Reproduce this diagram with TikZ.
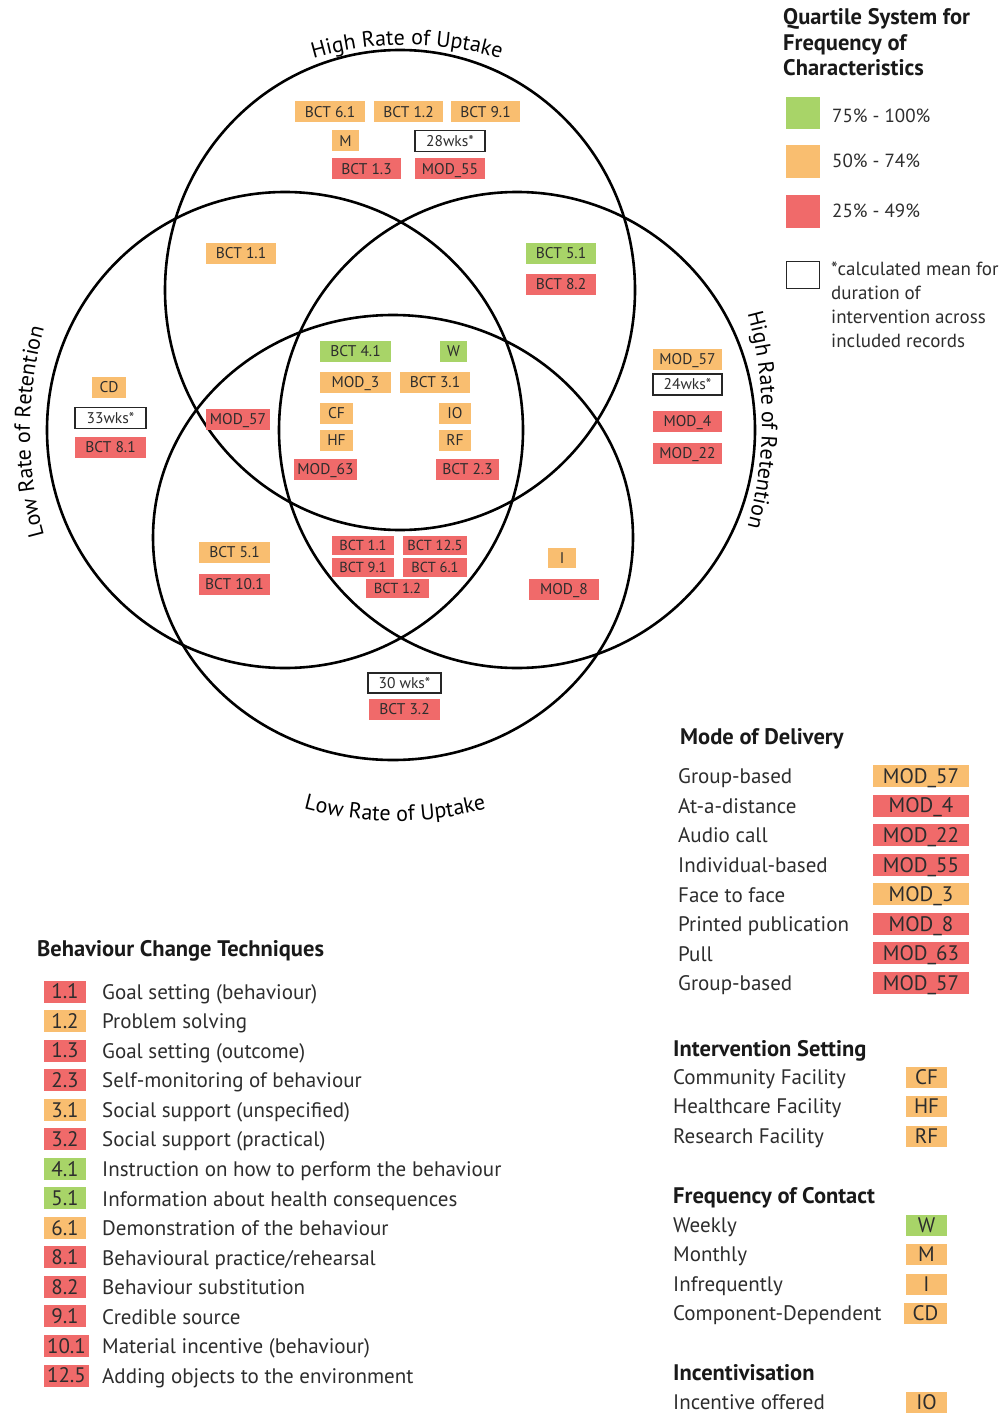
\documentclass[tikz,border=0pt]{standalone}
\usepackage{fontspec}
\setmainfont{PT Sans}
\usetikzlibrary{decorations.text}
\definecolor{cgreen}{RGB}{168,212,104}
\definecolor{corange}{RGB}{249,190,112}
\definecolor{cred}{RGB}{240,106,106}
\definecolor{txtc}{RGB}{45,45,45}
\newcommand\vennfont{\fontsize{15.5}{16}\selectfont}
\newcommand\vennsmall{\fontsize{14.5}{15}\selectfont}
\newcommand\legfont{\fontsize{21}{24}\selectfont}
\newcommand\qfont{\fontsize{19}{22}\selectfont}
\newcommand\headfont{\fontsize{22.5}{26}\selectfont\bfseries}
\newcommand\arcfont{\fontsize{22}{26}\selectfont}
\tikzset{
  vbox/.style={inner sep=0pt, minimum height=21pt, text=txtc, font=\vennfont, text height=10.9pt, text depth=0pt},
  vsmall/.style={font=\vennsmall, text height=10.2pt, minimum height=19pt},
  gbox/.style={vbox, fill=cgreen},
  obox/.style={vbox, fill=corange},
  rbox/.style={vbox, fill=cred},
  wbox/.style={vbox, draw=black!85, line width=1.5pt, fill=white},
  lbox/.style={vbox, font=\legfont, text height=14.7pt, minimum height=22pt},
  ring/.style={draw=black, line width=2.6pt},
  lgtext/.style={anchor=base west, inner sep=0pt, font=\legfont, text=txtc},
  qtext/.style={anchor=base west, inner sep=0pt, font=\qfont, text=txtc},
  lghead/.style={anchor=base west, inner sep=0pt, font=\headfont, text=black!90},
}
\begin{document}
\begin{tikzpicture}[x=1pt,y=-1pt]
\useasboundingbox (0,0) rectangle (1008,1415);
\fill[white] (0,0) rectangle (1008,1415);

% ---- circles ----
\coordinate (cT) at (400,290);
\coordinate (cL) at (285,430);
\coordinate (cR) at (517,430);
\coordinate (cB) at (393,537.5);
\draw[ring] (cT) ellipse[x radius=235pt, y radius=240pt];
\draw[ring] (cL) circle[radius=238pt];
\draw[ring] (cR) circle[radius=238pt];
\draw[ring] (cB) ellipse[x radius=240pt, y radius=222.5pt];

% ---- curved labels ----
\path[decorate, decoration={text along path, text align=center,
  text={|\arcfont|High Rate of Uptake}}]
  ([shift={(407,375)}]115:330pt) arc[start angle=115, end angle=65, radius=330pt];
\path[decorate, decoration={text along path, text align=center,
  text={|\arcfont|Low Rate of Uptake}}]
  ([shift={(395,471)}]240:350pt) arc[start angle=240, end angle=300, radius=350pt];
\path[decorate, decoration={text along path, text align=center,
  text={|\arcfont|Low Rate of Retention}}]
  ([shift={(420,432)}]200:390pt) arc[start angle=200, end angle=160, radius=390pt];
\path[decorate, decoration={text along path, text align=center,
  text={|\arcfont|High Rate of Retention}}]
  ([shift={(362,420)}]20:400pt) arc[start angle=20, end angle=-20, radius=400pt];

% ---- Venn tags ----
% top only
\node[obox, minimum width=70pt] (u1) at (330,112) {BCT 6.1};
\node[obox, minimum width=69pt] (u2) at (408.5,112) {BCT 1.2};
\node[obox, minimum width=69pt] (u3) at (485.5,112) {BCT 9.1};
\node[obox, minimum width=27pt] (u4) at (345.5,141) {M};
\node[wbox, minimum width=70pt] (u5) at (450,141) {28wks*};
\node[rbox, minimum width=69pt] (u6) at (366.5,169) {BCT 1.3};
\node[rbox, minimum width=70pt] (u7) at (450,169) {MOD\_55};
% top-left / top-right
\node[obox, minimum width=70pt] (tl1) at (241,253.5) {BCT 1.1};
\node[gbox, minimum width=70pt] (tr1) at (561,253.5) {BCT 5.1};
\node[rbox, minimum width=70pt] (tr2) at (561,284.5) {BCT 8.2};
% centre
\node[gbox, minimum width=71pt] (c1) at (355.5,351.5) {BCT 4.1};
\node[gbox, minimum width=27pt] (c2) at (453.5,351.5) {W};
\node[obox, minimum width=71pt] (c3) at (355.5,382.5) {MOD\_3};
\node[obox, minimum width=70pt] (c4) at (435,382.5) {BCT 3.1};
\node[obox, minimum width=33pt] (c5) at (336.5,413.5) {CF};
\node[obox, minimum width=32pt] (c6) at (455,413.5) {IO};
\node[obox, minimum width=33pt] (c7) at (336.5,440.5) {HF};
\node[obox, minimum width=32pt] (c8) at (455,440.5) {RF};
\node[rbox, minimum width=63pt] (c9) at (325.5,469) {MOD\_63};
\node[rbox, minimum width=63pt] (c10) at (467.5,469) {BCT 2.3};
% left
\node[rbox, minimum width=64pt] (lm1) at (238,419) {MOD\_57};
\node[obox, minimum width=34pt] (l1) at (109,387) {CD};
\node[wbox, minimum width=71pt] (l2) at (110.5,418) {33wks*};
\node[rbox, minimum width=71pt] (l3) at (110.5,447) {BCT 8.1};
% right
\node[obox, minimum width=69pt] (r1) at (687.5,359.5) {MOD\_57};
\node[wbox, minimum width=69pt] (r2) at (687.5,384.5) {24wks*};
\node[rbox, minimum width=69pt] (r3) at (687.5,421) {MOD\_4};
\node[rbox, minimum width=69pt] (r4) at (687.5,453) {MOD\_22};
% lower left
\node[obox, minimum width=71pt] (bl1) at (234.5,552) {BCT 5.1};
\node[rbox, minimum width=71pt] (bl2) at (234.5,584) {BCT 10.1};
% lower centre
\node[rbox, vsmall, minimum width=62pt] (bc1) at (363,545.5) {BCT 1.1};
\node[rbox, vsmall, minimum width=64pt] (bc2) at (435,545.5) {BCT 12.5};
\node[rbox, vsmall, minimum width=62pt] (bc3) at (363,567) {BCT 9.1};
\node[rbox, vsmall, minimum width=64pt] (bc4) at (435,567) {BCT 6.1};
\node[rbox, vsmall, minimum width=63pt] (bc5) at (397.5,588.5) {BCT 1.2};
% lower right
\node[obox, minimum width=28pt, minimum height=20pt] (br1) at (562,558) {I};
\node[rbox, minimum width=70pt] (br2) at (564,589.5) {MOD\_8};
% bottom
\node[wbox, minimum width=73pt, minimum height=20pt] (b1) at (404.5,683) {30 wks*};
\node[rbox, minimum width=71pt] (b2) at (404.5,709.5) {BCT 3.2};

% ---- Quartile legend ----
\node[lghead] (q1) at (783,25) {Quartile System for};
\node[lghead] (q2) at (783,50.5) {Frequency of};
\node[lghead] (q3) at (783,76) {Characteristics};
\node[fill=cgreen, minimum width=34pt, minimum height=32pt, inner sep=0pt] (qg) at (803,113) {};
\node[fill=corange, minimum width=34pt, minimum height=33pt, inner sep=0pt] (qo) at (803,161.5) {};
\node[fill=cred, minimum width=34pt, minimum height=33pt, inner sep=0pt] (qr) at (803,211.5) {};
\node[draw=black!85, line width=1.5pt, fill=white, minimum width=33pt, minimum height=27pt, inner sep=0pt] (qw) at (803,275) {};
\node[qtext] (qgt) at (832,123) {75\% - 100\%};
\node[qtext] (qot) at (832,168) {50\% - 74\%};
\node[qtext] (qrt) at (832,218) {25\% - 49\%};
\node[qtext] (qw1) at (831,275) {*calculated mean for};
\node[qtext] (qw2) at (831,299) {duration of};
\node[qtext] (qw3) at (831,323) {intervention across};
\node[qtext] (qw4) at (831,347) {included records};

% ---- Mode of Delivery ----
\node[lghead] (mh) at (680,744) {Mode of Delivery};
\node[lgtext] (m1) at (678,783.7) {Group-based};
\node[lgtext] (m2) at (678,813.3) {At-a-distance};
\node[lgtext] (m3) at (678,842.8) {Audio call};
\node[lgtext] (m4) at (678,872.4) {Individual-based};
\node[lgtext] (m5) at (678,902.0) {Face to face};
\node[lgtext] (m6) at (678,931.6) {Printed publication};
\node[lgtext] (m7) at (678,961.1) {Pull};
\node[lgtext] (m8) at (678,990.7) {Group-based};
\node[lbox, fill=corange, minimum width=96pt] (mb1) at (921,776) {MOD\_57};
\node[lbox, fill=cred, minimum width=96pt] (mb2) at (921,805.6) {MOD\_4};
\node[lbox, fill=cred, minimum width=96pt] (mb3) at (921,835.1) {MOD\_22};
\node[lbox, fill=cred, minimum width=96pt] (mb4) at (921,864.7) {MOD\_55};
\node[lbox, fill=corange, minimum width=96pt] (mb5) at (921,894.3) {MOD\_3};
\node[lbox, fill=cred, minimum width=96pt] (mb6) at (921,923.9) {MOD\_8};
\node[lbox, fill=cred, minimum width=96pt] (mb7) at (921,953.4) {MOD\_63};
\node[lbox, fill=cred, minimum width=96pt] (mb8) at (921,983) {MOD\_57};

% ---- Behaviour Change Techniques ----
\node[lghead] (bh) at (37,956) {Behaviour Change Techniques};
\node[lbox, fill=cred, minimum width=42pt] (k1) at (65,991.5) {1.1};
\node[lbox, fill=corange, minimum width=42pt] (k2) at (65,1021.0) {1.2};
\node[lbox, fill=cred, minimum width=42pt] (k3) at (65,1050.6) {1.3};
\node[lbox, fill=cred, minimum width=42pt] (k4) at (65,1080.1) {2.3};
\node[lbox, fill=corange, minimum width=42pt] (k5) at (65,1109.7) {3.1};
\node[lbox, fill=cred, minimum width=42pt] (k6) at (65,1139.2) {3.2};
\node[lbox, fill=cgreen, minimum width=42pt] (k7) at (65,1168.7) {4.1};
\node[lbox, fill=cgreen, minimum width=42pt] (k8) at (65,1198.3) {5.1};
\node[lbox, fill=corange, minimum width=42pt] (k9) at (65,1227.8) {6.1};
\node[lbox, fill=cred, minimum width=42pt] (k10) at (65,1257.4) {8.1};
\node[lbox, fill=cred, minimum width=42pt] (k11) at (65,1286.9) {8.2};
\node[lbox, fill=cred, minimum width=42pt] (k12) at (65,1316.4) {9.1};
\node[lbox, fill=cred, minimum width=45pt] (k13) at (66.5,1346.0) {10.1};
\node[lbox, fill=cred, minimum width=45pt] (k14) at (66.5,1375.5) {12.5};
\node[lgtext] (kt1) at (102,999.2) {Goal setting (behaviour)};
\node[lgtext] (kt2) at (102,1028.7) {Problem solving};
\node[lgtext] (kt3) at (102,1058.3) {Goal setting (outcome)};
\node[lgtext] (kt4) at (102,1087.8) {Self-monitoring of behaviour};
\node[lgtext] (kt5) at (102,1117.4) {Social support (unspecified)};
\node[lgtext] (kt6) at (102,1146.9) {Social support (practical)};
\node[lgtext] (kt7) at (102,1176.4) {Instruction on how to perform the behaviour};
\node[lgtext] (kt8) at (102,1206.0) {Information about health consequences};
\node[lgtext] (kt9) at (102,1235.5) {Demonstration of the behaviour};
\node[lgtext] (kt10) at (102,1265.1) {Behavioural practice/rehearsal};
\node[lgtext] (kt11) at (102,1294.6) {Behaviour substitution};
\node[lgtext] (kt12) at (102,1324.1) {Credible source};
\node[lgtext] (kt13) at (102,1353.7) {Material incentive (behaviour)};
\node[lgtext] (kt14) at (102,1383.2) {Adding objects to the environment};

% ---- Intervention Setting ----
\node[lghead] (ih) at (673,1056) {Intervention Setting};
\node[lgtext] (i1) at (673,1084.7) {Community Facility};
\node[lgtext] (i2) at (673,1113.7) {Healthcare Facility};
\node[lgtext] (i3) at (673,1143.7) {Research Facility};
\node[lbox, fill=corange, minimum width=41pt, minimum height=21pt] (ib1) at (926.5,1077) {CF};
\node[lbox, fill=corange, minimum width=41pt, minimum height=21pt] (ib2) at (926.5,1106) {HF};
\node[lbox, fill=corange, minimum width=41pt, minimum height=21pt] (ib3) at (926.5,1136) {RF};

% ---- Frequency of Contact ----
\node[lghead] (fh) at (673,1203) {Frequency of Contact};
\node[lgtext] (f1) at (673,1232.7) {Weekly};
\node[lgtext] (f2) at (673,1261.7) {Monthly};
\node[lgtext] (f3) at (673,1291.7) {Infrequently};
\node[lgtext] (f4) at (673,1320.7) {Component-Dependent};
\node[lbox, fill=cgreen, minimum width=41pt, minimum height=21pt] (fb1) at (926.5,1225) {W};
\node[lbox, fill=corange, minimum width=41pt, minimum height=21pt] (fb2) at (926.5,1254) {M};
\node[lbox, fill=corange, minimum width=41pt, minimum height=21pt] (fb3) at (926.5,1284) {I};
\node[lbox, fill=corange, minimum width=43pt, minimum height=21pt] (fb4) at (925.5,1313) {CD};

% ---- Incentivisation ----
\node[lghead] (nh) at (673,1380) {Incentivisation};
\node[lgtext] (n1) at (673,1409.7) {Incentive offered};
\node[lbox, fill=corange, minimum width=41pt, minimum height=21pt] (nb1) at (926.5,1402) {IO};
\end{tikzpicture}
\end{document}
